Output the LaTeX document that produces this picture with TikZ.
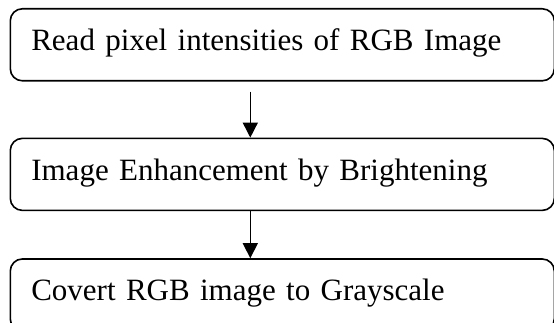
\documentclass[tikz,border=0pt]{standalone}
\usepackage{fontspec}
\setmainfont{Liberation Serif}
\usepackage{tikz}
\usetikzlibrary{arrows.meta,positioning,calc}

\begin{document}
\begin{tikzpicture}[x=1pt,y=1pt,
    stagebox/.style={draw, line width=1.6pt, rounded corners=12pt,
        minimum width=544pt, text width=502pt, inner xsep=21pt, inner ysep=0pt,
        text height=42pt, text depth=30pt, align=left,
        font=\fontsize{31}{37}\selectfont},
    flowarrow/.style={line width=1.5pt, -{Triangle[width=15pt,length=15pt]}}]
    \useasboundingbox (0,0) rectangle (554,323);
    \clip (0,0) rectangle (554,323);

    % Steps
    \node[stagebox, anchor=north west] (read) at (9.5,315) {Read pixel intensities of RGB Image};
    \node[stagebox, below=56pt of read] (enhance) {Image Enhancement by Brightening};
    \node[stagebox, below=47pt of enhance] (gray) {Covert RGB image to Grayscale};

    % Arrows
    \draw[flowarrow] ([xshift=-32pt,yshift=-10pt]read.south) -- ([xshift=-32pt]enhance.north);
    \draw[flowarrow] ([xshift=-32pt]enhance.south) -- ([xshift=-32pt]gray.north);
\end{tikzpicture}
\end{document}
